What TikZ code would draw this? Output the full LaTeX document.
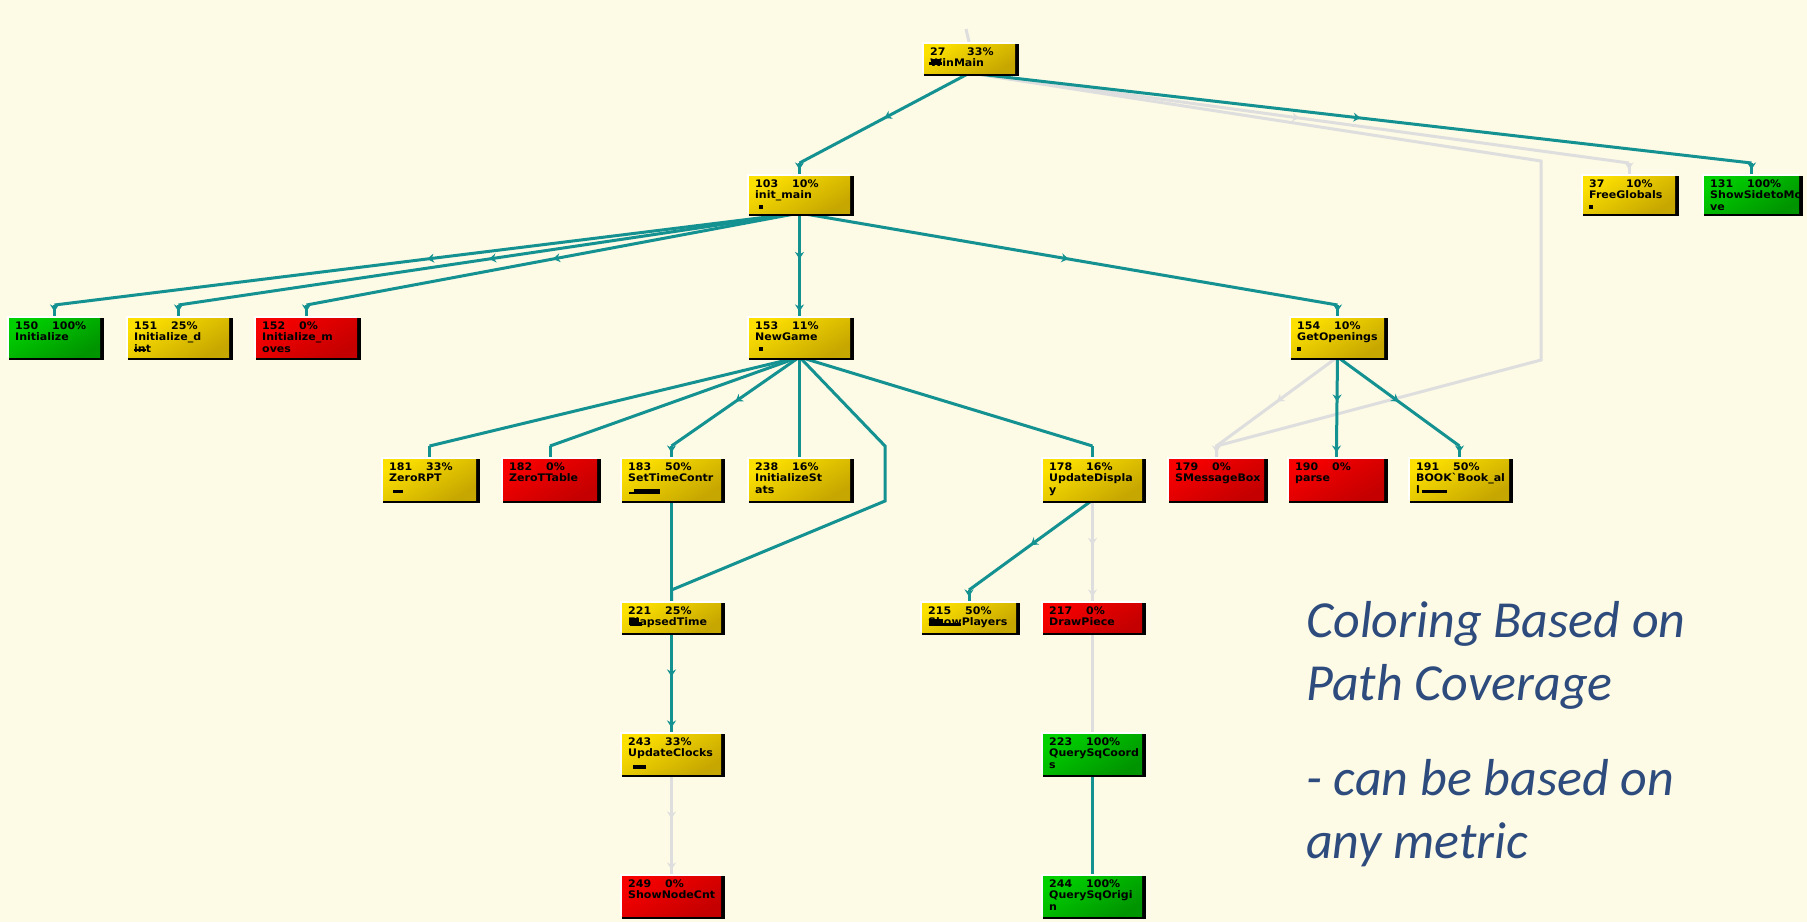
\documentclass[tikz,border=0pt]{standalone}
\usepackage{fontspec}
\newfontfamily\pixfont{DejaVu Sans}[FakeStretch=1.06]
\newfontfamily\notefont{Carlito}
\usetikzlibrary{arrows.meta,decorations.markings}

\definecolor{paper}{RGB}{253,250,230}
\definecolor{linkteal}{RGB}{20,145,145}
\definecolor{linkgrey}{RGB}{222,222,222}
\definecolor{yelA}{RGB}{252,224,0}
\definecolor{yelB}{RGB}{198,166,0}
\definecolor{grnA}{RGB}{0,208,0}
\definecolor{grnB}{RGB}{0,148,0}
\definecolor{redA}{RGB}{248,0,0}
\definecolor{redB}{RGB}{196,0,0}
\definecolor{notecol}{RGB}{45,75,125}

\pgfdeclarelayer{back}
\pgfdeclarelayer{links}
\pgfsetlayers{back,links,main}

\tikzset{
  cell/.style={inner sep=0pt, outer sep=0pt},
  txt/.style={anchor=base west, inner sep=0pt, font=\pixfont\bfseries\fontsize{10.4}{12}\selectfont},
  note/.style={anchor=base west, inner sep=0pt, text=notecol,
    font=\notefont\itshape\fontsize{52}{60}\selectfont},
  tlink/.style={draw=linkteal, line width=3pt},
  glink/.style={draw=linkgrey, line width=3pt},
  midtip/.style={postaction={decorate, decoration={markings,
    mark=at position 0.5 with {\arrow{Stealth[length=7pt,width=9pt]}}}}},
}

% #1 name, #2 x, #3 y, #4 width, #5 height, #6 colour stem
\newcommand\cbox[6]{%
  \fill[white] (#2-1,#3-1) rectangle (#2+#4-4,#3+#5-3);
  \fill[black] (#2+1,#3+1) rectangle (#2+#4,#3+#5);
  \node[cell, top color=#6A, bottom color=#6B, shading angle=30,
        minimum width={(#4-5)*1pt}, minimum height={(#5-4)*1pt},
        anchor=north west] (#1) at (#2+1,#3+1) {};
}
% #1 name, #2 number, #3 percentage, #4 second line, #5 third line
\newcommand\celltext[5]{%
  \node[txt] at ([shift={(6,11)}]#1.north west) {\makebox[37pt][l]{#2}#3\%};
  \node[txt] at ([shift={(6,22.5)}]#1.north west) {#4};
  \node[txt] at ([shift={(6,34)}]#1.north west) {#5};
}
% #1 style, #2 parent, #3 child
\newcommand\link[3]{%
  \draw[#1] (#2.south) -- ([yshift=13pt]#3.north);
  \draw[#1] ([yshift=13pt]#3.north) -- (#3.north);
}

\begin{document}
\begin{tikzpicture}[x=1pt,y=-1pt]
\useasboundingbox (0,0) rectangle (1807,922);
\begin{pgfonlayer}{back}
  \fill[paper] (0,0) rectangle (1807,922);
\end{pgfonlayer}

% ---- call graph boxes ----
\cbox{n27}{923}{43}{96}{33}{yel}
\cbox{n103}{748}{175}{106}{41}{yel}
\cbox{n37}{1582}{175}{97}{41}{yel}
\cbox{n131}{1703}{175}{100}{41}{grn}
\cbox{n150}{8}{317}{96}{43}{grn}
\cbox{n151}{127}{317}{106}{43}{yel}
\cbox{n152}{255}{317}{106}{43}{red}
\cbox{n153}{748}{317}{106}{43}{yel}
\cbox{n154}{1290}{317}{98}{43}{yel}
\cbox{n181}{382}{458}{98}{45}{yel}
\cbox{n182}{502}{458}{99}{45}{red}
\cbox{n183}{621}{458}{104}{45}{yel}
\cbox{n238}{748}{458}{106}{45}{yel}
\cbox{n178}{1042}{458}{104}{45}{yel}
\cbox{n179}{1168}{458}{100}{45}{red}
\cbox{n190}{1288}{458}{100}{45}{red}
\cbox{n191}{1409}{458}{104}{45}{yel}
\cbox{n221}{621}{602}{104}{33}{yel}
\cbox{n215}{921}{602}{99}{33}{yel}
\cbox{n217}{1042}{602}{104}{33}{red}
\cbox{n243}{621}{733}{104}{44}{yel}
\cbox{n223}{1042}{733}{104}{44}{grn}
\cbox{n249}{621}{875}{104}{44}{red}
\cbox{n244}{1042}{875}{104}{44}{grn}

\celltext{n27}{27}{33}{WinMain}{}
\celltext{n103}{103}{10}{init\_main}{}
\celltext{n37}{37}{10}{FreeGlobals}{}
\celltext{n131}{131}{100}{ShowSidetoMo}{ve}
\celltext{n150}{150}{100}{Initialize}{}
\celltext{n151}{151}{25}{Initialize\_d}{int}
\celltext{n152}{152}{0}{Initialize\_m}{oves}
\celltext{n153}{153}{11}{NewGame}{}
\celltext{n154}{154}{10}{GetOpenings}{}
\celltext{n181}{181}{33}{ZeroRPT}{}
\celltext{n182}{182}{0}{ZeroTTable}{}
\celltext{n183}{183}{50}{SetTimeContr}{}
\celltext{n238}{238}{16}{InitializeSt}{ats}
\celltext{n178}{178}{16}{UpdateDispla}{y}
\celltext{n179}{179}{0}{SMessageBox}{}
\celltext{n190}{190}{0}{parse}{}
\celltext{n191}{191}{50}{BOOK`Book\_al}{l}
\celltext{n221}{221}{25}{ElapsedTime}{}
\celltext{n215}{215}{50}{ShowPlayers}{}
\celltext{n217}{217}{0}{DrawPiece}{}
\celltext{n243}{243}{33}{UpdateClocks}{}
\celltext{n223}{223}{100}{QuerySqCoord}{s}
\celltext{n249}{249}{0}{ShowNodeCnt}{}
\celltext{n244}{244}{100}{QuerySqOrigi}{n}

% ---- coverage bars ----
\fill[black] (929,62) rectangle (942,65);
\fill[black] (931,59) rectangle (940,62);
\fill[black] (759,205) rectangle (763,209);
\fill[black] (1589,205) rectangle (1593,209);
\fill[black] (759,347) rectangle (763,351);
\fill[black] (1297,347) rectangle (1301,351);
\fill[black] (134,349) rectangle (146,351);
\fill[black] (393,490) rectangle (403,493);
\fill[black] (629,492) rectangle (660,494);
\fill[black] (634,489) rectangle (660,493);
\fill[black] (1422,490) rectangle (1447,493);
\fill[black] (630,622) rectangle (642,626);
\fill[black] (631,618) rectangle (639,622);
\fill[black] (929,619) rectangle (943,624);
\fill[black] (929,623) rectangle (961,626);
\fill[black] (633,765) rectangle (646,769);

% ---- free ends and routing points ----
\coordinate (top) at (966,29);
\coordinate (va) at (1541,161);
\coordinate (vb) at (1541,360);
\coordinate (vc) at (885,446);
\coordinate (vd) at (885,501);

\begin{pgfonlayer}{links}
  % grey (not covered) calls
  \draw[glink] (top) -- (n27.north);
  \link{glink,midtip}{n27}{n37}
  \draw[glink] (n27.south) -- (va) -- (vb) -- ([yshift=13pt]n179.north) -- (n179.north);
  \link{glink,midtip}{n154}{n179}
  \link{glink,midtip}{n178}{n217}
  \link{glink}{n217}{n223}
  \link{glink,midtip}{n243}{n249}
  % teal (covered) calls
  \link{tlink,midtip}{n27}{n103}
  \link{tlink,midtip}{n27}{n131}
  \link{tlink,midtip}{n103}{n150}
  \link{tlink,midtip}{n103}{n151}
  \link{tlink,midtip}{n103}{n152}
  \link{tlink,midtip}{n103}{n153}
  \link{tlink,midtip}{n103}{n154}
  \link{tlink}{n153}{n181}
  \link{tlink}{n153}{n182}
  \link{tlink,midtip}{n153}{n183}
  \link{tlink}{n153}{n238}
  \link{tlink}{n153}{n178}
  \draw[tlink] (n153.south) -- (vc) -- (vd) -- ([yshift=13pt]n221.north) -- (n221.north);
  \draw[tlink] (n183.south) -- (n221.north);
  \link{tlink,midtip}{n178}{n215}
  \link{tlink,midtip}{n221}{n243}
  \link{tlink}{n223}{n244}
  \link{tlink,midtip}{n154}{n190}
  \link{tlink,midtip}{n154}{n191}
\end{pgfonlayer}

% ---- caption ----
\node[note] (cap1) at (1306,637) {Coloring Based on};
\node[note] (cap2) at (1306,700) {Path Coverage};
\node[note] (cap3) at (1306,795) {- can be based on};
\node[note] (cap4) at (1306,858) {any metric};
\end{tikzpicture}
\end{document}
